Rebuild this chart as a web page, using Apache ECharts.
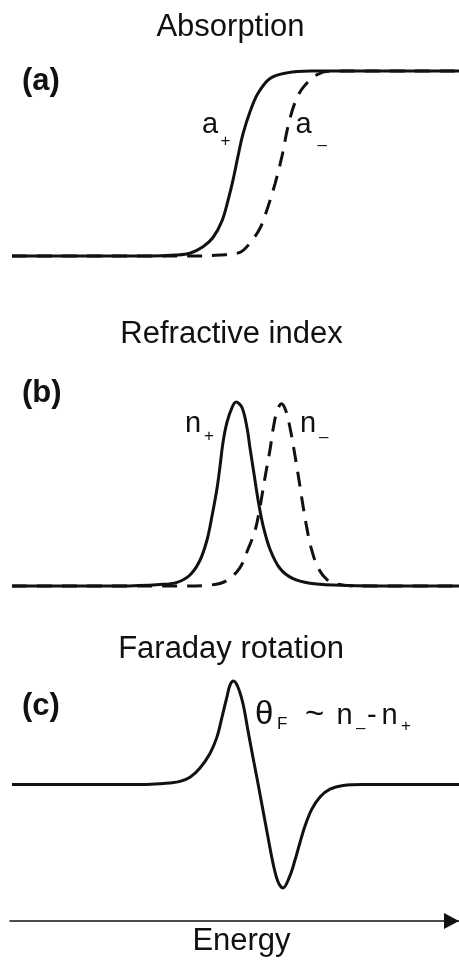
<!DOCTYPE html>
<html>
<head>
<meta charset="utf-8">
<script src="https://cdn.jsdelivr.net/npm/echarts@6/dist/echarts.min.js"></script>
<style>
  html, body { margin: 0; padding: 0; background: #fff; }
  #chart { width: 459px; height: 961px; }
</style>
</head>
<body>
<div id="chart"></div>
<script>
// Energy in arbitrary units; every curve is normalised to its own peak height.
const absorptionPlus = [
  [12, 0], [150, 0], [175, 0.005], [190, 0.015], [203, 0.05], [213, 0.10], [222, 0.19],
  [228, 0.30], [233, 0.41], [238, 0.54], [243, 0.66], [250, 0.78], [258, 0.88],
  [270, 0.96], [287, 0.99], [310, 1], [459, 1]
];
const absorptionMinus = [
  [12, 0], [193, 0], [220, 0.005], [240, 0.02], [250, 0.07], [260, 0.15], [267, 0.25],
  [275, 0.39], [282, 0.54], [288, 0.70], [295, 0.83], [303, 0.91], [317, 0.98],
  [333, 1], [459, 1]
];
const indexPlus = [
  [12, 0], [120, 0], [160, 0.008], [177, 0.02], [190, 0.06], [200, 0.14], [207, 0.25],
  [212, 0.38], [217, 0.53], [220, 0.65], [223, 0.78], [227, 0.89], [232, 0.97],
  [236, 1], [242, 0.97], [247, 0.86], [250, 0.75], [254, 0.61], [258, 0.47],
  [263, 0.33], [270, 0.20], [280, 0.095], [293, 0.04], [310, 0.015], [333, 0.005],
  [380, 0], [459, 0]
];
const indexMinus = [
  [12, 0], [180, 0], [210, 0.005], [227, 0.03], [240, 0.10], [248, 0.20], [255, 0.30],
  [260, 0.43], [265, 0.59], [270, 0.74], [273, 0.85], [277, 0.95], [281.5, 0.99],
  [286, 0.95], [290, 0.86], [294, 0.74], [298, 0.61], [302, 0.47], [306, 0.34],
  [311, 0.21], [318, 0.10], [327, 0.035], [338, 0.01], [355, 0], [459, 0]
];
const faradayRotation = [
  [12, 0], [140, 0], [160, 0.008], [170, 0.015], [180, 0.03], [190, 0.07], [200, 0.16],
  [210, 0.30], [217, 0.46], [222, 0.65], [227, 0.85], [230, 0.96], [233.5, 1],
  [238, 0.94], [243, 0.78], [248, 0.52], [253, 0.26], [258, 0.01], [263, -0.25],
  [268, -0.51], [273, -0.76], [278, -0.94], [283, -1], [290, -0.88], [295, -0.73],
  [300, -0.56], [305, -0.40], [311.7, -0.24], [320, -0.12], [330, -0.045],
  [343, -0.01], [363, 0], [459, 0]
];
const panelTitles = ['Absorption', 'Refractive index', 'Faraday rotation'];
const panelTags = ['(a)', '(b)', '(c)'];
const energyLabel = 'Energy';
const energyRange = [10, 459];

const FONT = '"Liberation Sans", Arial, Helvetica, sans-serif';
const INK = '#111';

const chart = echarts.init(document.getElementById('chart'), null, { renderer: 'canvas' });

function curve(data, panel, dashed) {
  return {
    type: 'line',
    xAxisIndex: panel,
    yAxisIndex: panel,
    data: data,
    showSymbol: false,
    smooth: 0.35,
    clip: false,
    silent: true,
    lineStyle: { color: INK, width: 3, type: dashed ? [15, 10] : 'solid', cap: 'butt' },
    z: dashed ? 2 : 3
  };
}

function text(str, x, y, size, opts) {
  opts = opts || {};
  return {
    type: 'text',
    x: x,
    y: y,
    silent: true,
    style: {
      text: str,
      font: (opts.bold ? 'bold ' : '') + size + 'px ' + FONT,
      fill: INK,
      align: opts.align || 'left',
      verticalAlign: 'middle',
      textAlign: opts.align || 'left',
      textVerticalAlign: 'middle'
    }
  };
}

const titleCenters = [[230.5, 27], [231.5, 334.5], [231, 649.5]];
const tagCenters = [[22, 81], [22, 393.5], [22, 706]];

const graphics = [];
panelTitles.forEach((t, i) => graphics.push(text(t, titleCenters[i][0], titleCenters[i][1], 31, { align: 'center' })));
panelTags.forEach((t, i) => graphics.push(text(t, tagCenters[i][0], tagCenters[i][1], 31, { bold: true })));
graphics.push(text(energyLabel, 241.5, 941, 31, { align: 'center' }));

// curve annotations: main symbol plus a small sub-index
graphics.push(text('a', 202, 125, 29), text('+', 220.5, 141.5, 17));
graphics.push(text('a', 295.5, 125, 29), text('\u2013', 317.5, 145, 17));
graphics.push(text('n', 185, 423.5, 29), text('+', 204, 436, 17));
graphics.push(text('n', 300, 424, 29), text('\u2013', 319, 437, 17));
graphics.push(
  text('\u03b8', 255, 715, 33),
  text('F', 277, 724, 17),
  text('~', 305, 715, 33),
  text('n', 336.5, 716, 29),
  text('\u2013', 356, 728.8, 17),
  text('-', 367, 716, 29),
  text('n', 381.5, 716, 29),
  text('+', 401, 726, 17)
);

const grids = [
  { left: 10, right: 0, top: 71, height: 185 },
  { left: 10, right: 0, top: 402, height: 184 },
  { left: 10, right: 0, top: 681, height: 207 }
];

const hidden = { show: false };
const xAxes = grids.map((g, i) => ({
  type: 'value',
  gridIndex: i,
  min: energyRange[0],
  max: energyRange[1],
  show: i === 2,
  offset: i === 2 ? 33 : 0,
  axisLine: {
    show: i === 2,
    onZero: false,
    symbol: ['none', 'triangle'],
    symbolSize: [16, 15],
    symbolOffset: [0, -7.5],
    lineStyle: { color: INK, width: 1.5 }
  },
  axisTick: hidden,
  axisLabel: hidden,
  splitLine: hidden
}));
const yAxes = [
  { type: 'value', gridIndex: 0, min: 0, max: 1, show: false },
  { type: 'value', gridIndex: 1, min: 0, max: 1, show: false },
  { type: 'value', gridIndex: 2, min: -1, max: 1, show: false }
];

chart.setOption({
  animation: false,
  backgroundColor: '#fff',
  grid: grids,
  xAxis: xAxes,
  yAxis: yAxes,
  series: [
    curve(absorptionMinus, 0, true),
    curve(absorptionPlus, 0, false),
    curve(indexMinus, 1, true),
    curve(indexPlus, 1, false),
    curve(faradayRotation, 2, false)
  ],
  graphic: graphics
});
</script>
</body>
</html>
